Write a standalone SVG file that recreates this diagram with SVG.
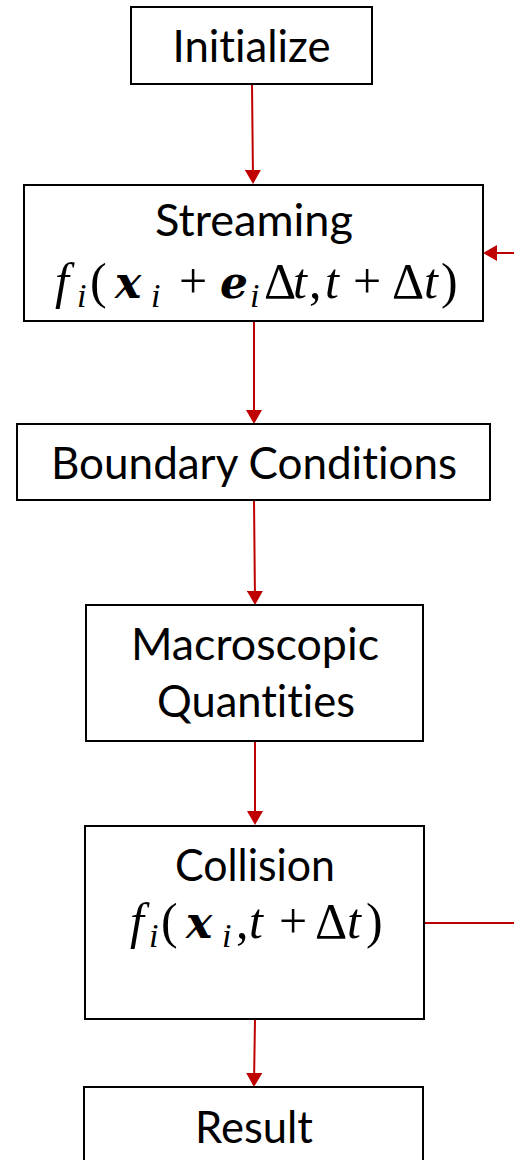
<svg xmlns="http://www.w3.org/2000/svg" width="514" height="1160" viewBox="0 0 514 1160">
  <style>
    .box { fill: #ffffff; stroke: #000000; stroke-width: 2; }
    .lbl { font-family: Lato, "Liberation Sans", sans-serif; font-size: 45px; fill: #000000; text-anchor: middle; font-variant-ligatures: none; font-feature-settings: "liga" 0, "clig" 0, "dlig" 0; }
    .m { font-family: "Liberation Serif", "DejaVu Serif", serif; font-size: 50px; fill: #000000; }
    .it { font-style: italic; }
    .bi { font-family: "DejaVu Serif", "Liberation Serif", serif; font-size: 44px; font-style: italic; font-weight: bold; }
    .sub { font-style: italic; font-size: 34px; }
    .flow { fill: none; stroke: #C00000; stroke-width: 2; }
  </style>
  <defs>
    <marker id="head" viewBox="0 0 14 16" refX="10" refY="8" markerWidth="14" markerHeight="16" markerUnits="userSpaceOnUse" orient="auto">
      <path d="M0,0 L14,8 L0,16 z" fill="#C00000"/>
    </marker>
  </defs>

  <!-- connectors -->
  <g id="connectors">
    <line class="flow" x1="252" y1="84" x2="253" y2="180" marker-end="url(#head)"/>
    <line class="flow" x1="254" y1="321" x2="254" y2="420" marker-end="url(#head)"/>
    <line class="flow" x1="254" y1="500" x2="255" y2="601" marker-end="url(#head)"/>
    <line class="flow" x1="255" y1="741" x2="255" y2="821" marker-end="url(#head)"/>
    <line class="flow" x1="255" y1="1019" x2="254" y2="1083" marker-end="url(#head)"/>
    <line class="flow" x1="514" y1="253" x2="487" y2="253" marker-end="url(#head)"/>
    <line class="flow" x1="424" y1="923" x2="514" y2="923"/>
  </g>

  <!-- nodes -->
  <g id="initialize">
    <rect class="box" x="131" y="7" width="241" height="77"/>
    <text class="lbl" x="251.5" y="62" textLength="158" lengthAdjust="spacingAndGlyphs">Initialize</text>
  </g>

  <g id="streaming">
    <rect class="box" x="24" y="185" width="459" height="136"/>
    <text class="lbl" x="254" y="236" textLength="198" lengthAdjust="spacingAndGlyphs">Streaming</text>
    <!-- f_i(x_i + e_i Δt, t + Δt) -->
    <text class="m" y="298">
      <tspan class="it" x="55">f</tspan>
      <tspan class="sub" x="77" dy="9">i</tspan>
      <tspan x="90" dy="-9">(</tspan>
      <tspan class="bi" x="115">x</tspan>
      <tspan class="sub" x="151" dy="9">i</tspan>
      <tspan x="179" dy="-9">+</tspan>
      <tspan class="bi" x="220">e</tspan>
      <tspan class="sub" x="250" dy="9">i</tspan>
      <tspan x="264" dy="-9">Δ</tspan>
      <tspan class="it" x="293">t</tspan>
      <tspan x="309">,</tspan>
      <tspan class="it" x="325">t</tspan>
      <tspan x="353">+</tspan>
      <tspan x="392">Δ</tspan>
      <tspan class="it" x="424">t</tspan>
      <tspan x="441">)</tspan>
    </text>
  </g>

  <g id="boundary">
    <rect class="box" x="17" y="424" width="473" height="76"/>
    <text class="lbl" x="254" y="479" textLength="406" lengthAdjust="spacingAndGlyphs">Boundary Conditions</text>
  </g>

  <g id="macroscopic">
    <rect class="box" x="86" y="605" width="337" height="136"/>
    <text class="lbl" x="255" y="660" textLength="248" lengthAdjust="spacingAndGlyphs">Macroscopic</text>
    <text class="lbl" x="256" y="717" textLength="198" lengthAdjust="spacingAndGlyphs">Quantities</text>
  </g>

  <g id="collision">
    <rect class="box" x="85" y="826" width="339" height="193"/>
    <text class="lbl" x="255" y="881" textLength="160" lengthAdjust="spacingAndGlyphs">Collision</text>
    <!-- f_i(x_i, t + Δt) -->
    <text class="m" y="938">
      <tspan class="it" x="130">f</tspan>
      <tspan class="sub" x="149" dy="9">i</tspan>
      <tspan x="161" dy="-9">(</tspan>
      <tspan class="bi" x="186">x</tspan>
      <tspan class="sub" x="222" dy="9">i</tspan>
      <tspan x="236" dy="-9">,</tspan>
      <tspan class="it" x="249">t</tspan>
      <tspan x="279">+</tspan>
      <tspan x="315">Δ</tspan>
      <tspan class="it" x="347">t</tspan>
      <tspan x="366">)</tspan>
    </text>
  </g>

  <g id="result">
    <rect class="box" x="84" y="1087" width="339" height="90"/>
    <text class="lbl" x="254" y="1143" textLength="118" lengthAdjust="spacingAndGlyphs">Result</text>
  </g>
</svg>
